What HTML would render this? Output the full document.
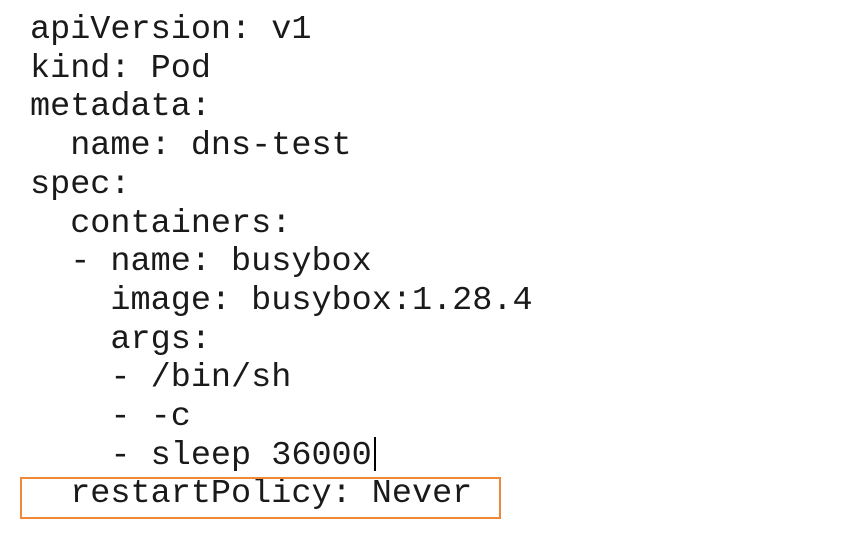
<!DOCTYPE html>
<html><head><meta charset="utf-8"><style>
html,body{margin:0;padding:0;background:#fff;width:849px;height:533px;overflow:hidden;}
pre{position:absolute;left:30px;top:11px;margin:0;font-family:"Liberation Mono",monospace;font-size:33.5px;line-height:38.7px;color:#1a1a1a;}
.box{position:absolute;left:20px;top:477px;width:477px;height:38px;border:2.5px solid #f0883a;}
.cur{position:absolute;left:374px;top:437px;width:2px;height:34px;background:#000;}
</style></head><body>
<pre>apiVersion: v1
kind: Pod
metadata:
  name: dns-test
spec:
  containers:
  - name: busybox
    image: busybox:1.28.4
    args:
    - /bin/sh
    - -c
    - sleep 36000
  restartPolicy: Never</pre>
<div class="cur"></div>
<div class="box"></div>
</body></html>
